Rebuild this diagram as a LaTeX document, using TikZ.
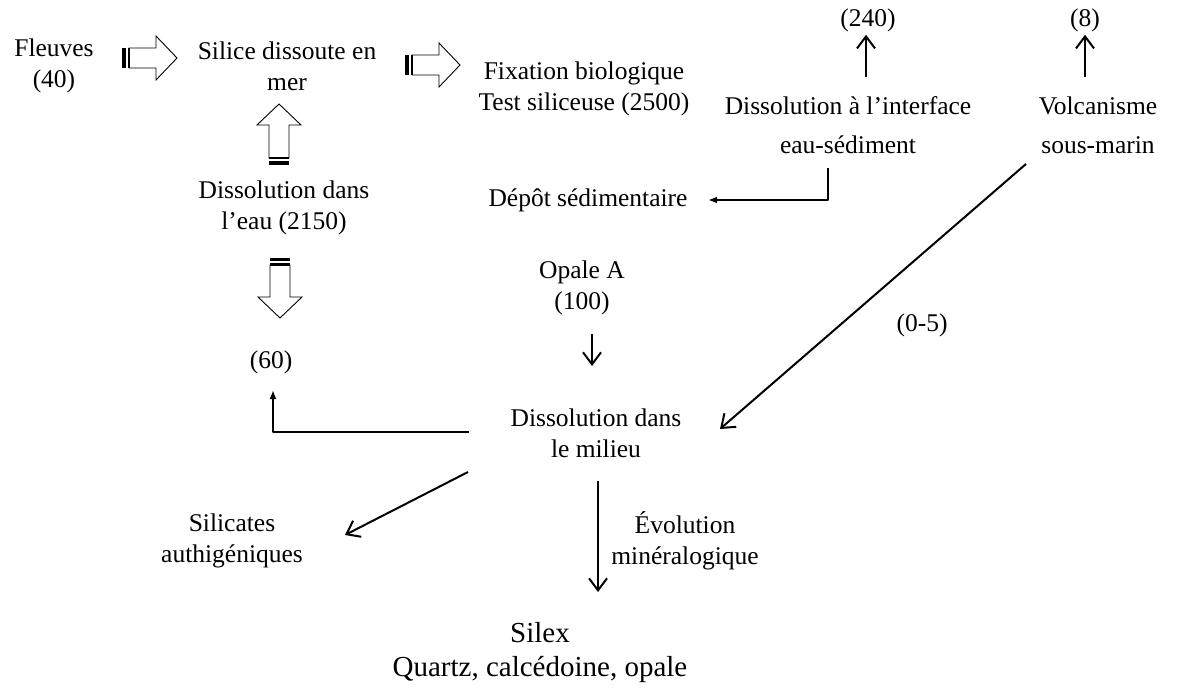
\documentclass[tikz,border=0pt]{standalone}
\usepackage{fontspec}
\setmainfont{Liberation Serif}
\usetikzlibrary{arrows.meta}
\tikzset{
  pics/blockarrow/.style={code={
    \draw[line width=0.9pt,fill=white,line join=miter]
      (7,-10) -- ({#1-21},-10) -- ({#1-21},-22) -- (#1,0) -- ({#1-21},22) -- ({#1-21},10) -- (7,10) -- cycle;
    \fill (0,-10) rectangle (3.5,10);
    \fill (5.5,-10) rectangle (8,10);
  }}
}
\begin{document}
\begin{tikzpicture}[x=1pt,y=-1pt,
  txt/.style={align=center,inner sep=0pt,font=\fontsize{25.5}{31}\selectfont},
  txtw/.style={align=center,inner sep=0pt,font=\fontsize{25.5}{39}\selectfont},
  big/.style={align=center,inner sep=0pt,font=\fontsize{29}{34}\selectfont},
  openarrow/.style={line width=2pt,-{Straight Barb[length=12pt,width=18pt,line width=2pt]}},
  fillarrow/.style={line width=2.4pt,line join=round,-{Latex[length=9pt,width=7pt]}},
]
\useasboundingbox (0,0) rectangle (1184,695);

% texts
\node[txt] (fleuves) at (54,66) {Fleuves\\(40)};
\node[txt] (silice) at (287,66) {Silice dissoute en\\mer};
\node[txt] (fix) at (584,89) {Fixation biologique\\Test siliceuse (2500)};
\node[txt] (n240) at (868,20) {(240)};
\node[txtw] (interf) at (848,125) {Dissolution à l’interface\\eau-sédiment};
\node[txt] (n8) at (1085,20) {(8)};
\node[txtw] (volc) at (1098,125) {Volcanisme\\sous-marin};
\node[txt] (depot) at (588,200) {Dépôt sédimentaire};
\node[txt] (disseau) at (284,208) {Dissolution dans\\l’eau (2150)};
\node[txt] (n60) at (271,362) {(60)};
\node[txt] (opale) at (582,288) {Opale A\\(100)};
\node[txt] (n05) at (922,325) {(0-5)};
\node[txt] (milieu) at (596,433) {Dissolution dans\\le milieu};
\node[txt] (silic) at (232,541) {Silicates\\authigéniques};
\node[txt] (evol) at (685,541) {Évolution\\minéralogique};
\node[big] (silex) at (540,653) {Silex\\Quartz, calcédoine, opale};

% block arrows
\pic at (122,58) {blockarrow=55};
\pic at (405,65) {blockarrow=55};
\pic[rotate=90] at (279,165) {blockarrow=61};
\pic[rotate=-90] at (280,258) {blockarrow=60};

% thin arrows
\coordinate (a240) at (866,77);
\draw[openarrow,shorten >=3pt] (a240) -- (a240 |- n240.south);
\coordinate (a8) at (1085,77);
\draw[openarrow,shorten >=3pt] (a8) -- (a8 |- n8.south);
\coordinate (d1) at (828,168);
\coordinate (d2) at (708,200);
\draw[fillarrow] (d1) |- (d2);
\coordinate (v1) at (1026,164);
\coordinate (v2) at (720,429);
\draw[openarrow] (v1) -- (v2);
\coordinate (o1) at (592,334);
\coordinate (o2) at (592,366);
\draw[openarrow] (o1) -- (o2);
\coordinate (m1) at (469,432);
\coordinate (m2) at (273,390);
\draw[fillarrow] (m1) -| (m2);
\coordinate (s1) at (468,472);
\coordinate (s2) at (345,535);
\draw[openarrow] (s1) -- (s2);
\coordinate (e1) at (598,481);
\coordinate (e2) at (598,592);
\draw[openarrow] (e1) -- (e2);
\end{tikzpicture}
\end{document}
